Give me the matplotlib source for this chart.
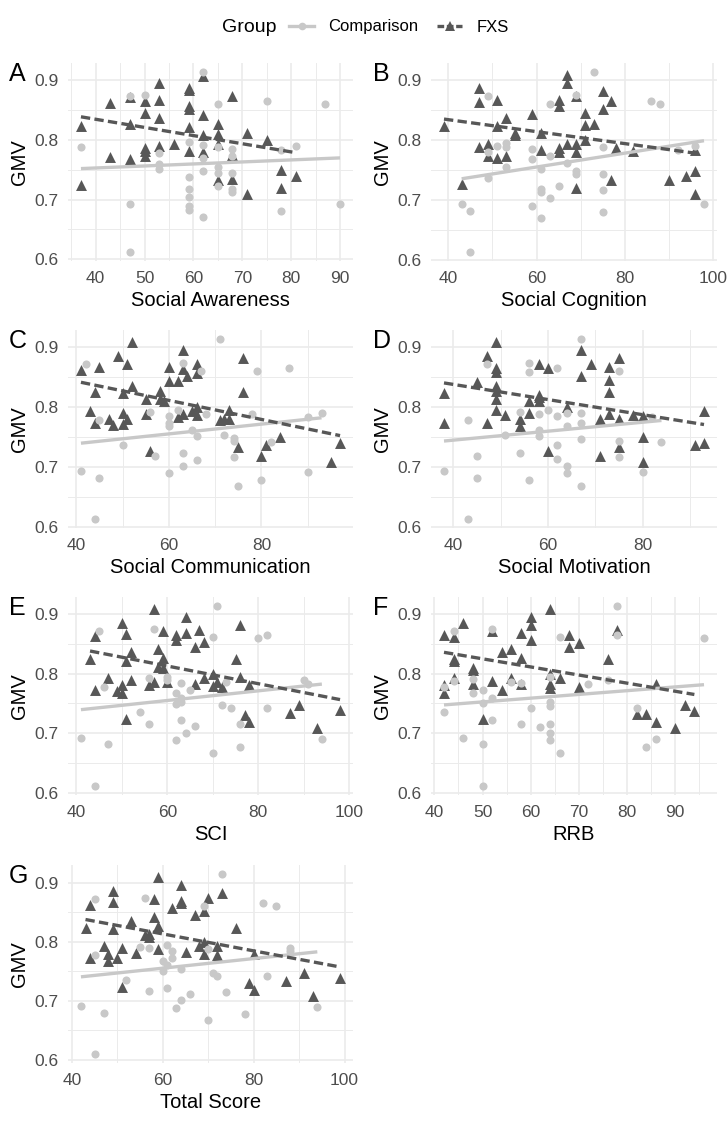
import numpy as np
import matplotlib
matplotlib.use("Agg")
import matplotlib.pyplot as plt
from matplotlib.lines import Line2D

plt.rcParams['font.family'] = ['Liberation Sans', 'DejaVu Sans']

# ---------------- data ----------------
a_cmp_x = [37,47,47,47,50,53,53,53,59,59,59,59,59,59,62,62,62,62,62,65,65,65,65,65,68,68,68,68,68,75,78,78,81,87,90]
a_cmp_y = [0.789,0.873,0.693,0.612,0.875,0.778,0.760,0.751,0.796,0.737,0.718,0.704,0.690,0.682,0.914,0.792,0.769,0.748,0.670,0.861,0.788,0.755,0.744,0.723,0.785,0.773,0.744,0.717,0.713,0.866,0.783,0.680,0.790,0.860,0.693]
a_fxs_x = [37,37,43,43,47,47,47,50,50,50,50,50,53,53,53,53,56,59,59,59,59,59,59,62,62,62,62,65,65,65,65,68,68,68,71,71,75,78,78,81]
a_fxs_y = [0.824,0.725,0.862,0.772,0.826,0.768,0.872,0.865,0.845,0.787,0.782,0.773,0.896,0.867,0.837,0.790,0.794,0.887,0.883,0.857,0.852,0.821,0.781,0.907,0.842,0.808,0.780,0.826,0.810,0.794,0.732,0.873,0.775,0.734,0.811,0.710,0.800,0.749,0.720,0.740]

b_cmp_x = [43,45,45,49,49,49,51,53,53,53,59,59,59,61,61,61,61,63,63,63,65,67,69,69,69,73,75,75,75,75,86,88,92,96,98]
b_cmp_y = [0.693,0.682,0.613,0.874,0.781,0.737,0.790,0.795,0.789,0.755,0.785,0.769,0.690,0.751,0.719,0.713,0.670,0.861,0.773,0.704,0.723,0.761,0.748,0.743,0.875,0.914,0.788,0.743,0.716,0.680,0.866,0.860,0.783,0.791,0.693]
b_fxs_x = [39,43,47,47,47,49,49,51,51,51,53,53,55,55,59,61,61,65,65,65,65,67,67,67,69,69,69,69,71,71,71,73,75,75,77,77,78,82,90,94,96,96,96]
b_fxs_y = [0.824,0.727,0.888,0.863,0.789,0.794,0.774,0.867,0.824,0.770,0.837,0.773,0.812,0.809,0.844,0.812,0.783,0.868,0.857,0.787,0.780,0.909,0.896,0.794,0.874,0.794,0.780,0.720,0.845,0.826,0.800,0.827,0.882,0.852,0.866,0.733,0.787,0.782,0.733,0.740,0.749,0.710,0.783]

c_cmp_x = [41,42,44,45,45,50,56,57,60,60,60,60,62,63,63,63,65,66,66,67,68,71,72,74,74,74,75,78,79,80,82,86,90,90,93]
c_cmp_y = [0.693,0.873,0.613,0.682,0.779,0.737,0.792,0.718,0.785,0.773,0.769,0.690,0.796,0.874,0.723,0.702,0.761,0.751,0.712,0.860,0.788,0.914,0.754,0.748,0.743,0.716,0.669,0.788,0.860,0.679,0.742,0.866,0.784,0.692,0.790]
c_fxs_x = [41,43,44,44,45,47,48,49,50,50,50,51,51,52,52,55,55,56,58,58,59,60,60,62,62,63,63,63,64,65,66,66,66,66,71,72,73,73,75,76,76,80,81,84,95,97]
c_fxs_y = [0.862,0.794,0.825,0.773,0.867,0.781,0.770,0.886,0.824,0.791,0.772,0.872,0.781,0.909,0.836,0.813,0.788,0.726,0.827,0.813,0.810,0.868,0.844,0.844,0.784,0.895,0.864,0.788,0.852,0.794,0.873,0.857,0.801,0.787,0.779,0.780,0.795,0.780,0.733,0.882,0.826,0.719,0.736,0.750,0.709,0.740]

d_cmp_x = [38,43,43,45,45,47,51,54,54,56,56,56,58,58,58,60,62,62,62,62,64,64,64,64,67,67,67,67,67,75,75,75,80,82,84]
d_cmp_y = [0.693,0.779,0.613,0.718,0.682,0.873,0.754,0.792,0.723,0.874,0.859,0.679,0.788,0.761,0.751,0.796,0.866,0.785,0.737,0.713,0.790,0.769,0.702,0.690,0.914,0.790,0.773,0.747,0.669,0.861,0.743,0.716,0.692,0.784,0.742]
d_fxs_x = [38,38,45,47,47,49,49,49,49,49,49,49,51,54,54,56,56,58,58,58,58,60,60,64,67,67,69,71,71,73,73,73,73,75,75,75,78,80,80,80,91,93,93]
d_fxs_y = [0.824,0.773,0.842,0.886,0.773,0.909,0.866,0.858,0.836,0.827,0.813,0.795,0.787,0.780,0.769,0.810,0.790,0.821,0.817,0.810,0.873,0.866,0.726,0.801,0.895,0.852,0.873,0.780,0.719,0.868,0.845,0.825,0.788,0.882,0.780,0.733,0.787,0.785,0.750,0.709,0.736,0.794,0.740]

e_cmp_x = [41,44,45,46,47,54,56,56,57,60,60,62,62,62,63,63,63,63,64,65,66,70,70,71,72,73,74,76,76,80,82,82,90,91,94]
e_cmp_y = [0.691,0.611,0.872,0.778,0.681,0.735,0.716,0.792,0.875,0.795,0.790,0.768,0.749,0.689,0.784,0.759,0.753,0.722,0.701,0.772,0.712,0.861,0.667,0.914,0.747,0.786,0.743,0.715,0.677,0.860,0.865,0.742,0.790,0.783,0.690]
e_fxs_x = [43,44,44,47,49,50,50,50,51,51,51,52,52,56,57,57,58,58,59,59,59,60,62,62,64,64,66,66,67,68,68,70,70,71,72,75,76,76,77,78,78,87,89,93,98]
e_fxs_y = [0.824,0.863,0.772,0.793,0.771,0.886,0.781,0.768,0.867,0.822,0.724,0.836,0.790,0.781,0.909,0.786,0.842,0.811,0.872,0.826,0.809,0.786,0.865,0.857,0.896,0.869,0.845,0.783,0.873,0.853,0.793,0.799,0.779,0.786,0.778,0.825,0.882,0.794,0.730,0.781,0.718,0.734,0.748,0.708,0.739]

f_cmp_x = [42,42,44,44,46,48,48,50,50,50,50,52,52,52,56,58,58,60,62,64,64,64,64,64,64,66,66,72,76,78,78,82,84,86,96]
f_cmp_y = [0.778,0.735,0.872,0.788,0.691,0.791,0.768,0.772,0.750,0.681,0.611,0.875,0.759,0.722,0.786,0.785,0.716,0.743,0.711,0.794,0.753,0.746,0.715,0.701,0.689,0.861,0.667,0.782,0.790,0.914,0.865,0.742,0.677,0.690,0.860]
f_fxs_x = [42,42,42,44,44,44,44,46,48,48,48,50,52,52,54,54,56,56,58,58,58,60,60,60,64,64,64,64,66,68,68,70,70,76,78,82,84,86,86,90,92,94]
f_fxs_y = [0.865,0.781,0.768,0.861,0.824,0.821,0.793,0.885,0.809,0.806,0.783,0.724,0.872,0.787,0.772,0.836,0.842,0.793,0.868,0.826,0.783,0.896,0.882,0.856,0.909,0.783,0.776,0.800,0.793,0.865,0.845,0.851,0.778,0.825,0.874,0.733,0.732,0.782,0.718,0.708,0.748,0.738]

g_cmp_x = [42,45,45,45,47,52,55,56,57,57,60,60,61,61,61,62,62,63,64,64,66,69,70,70,71,72,73,74,78,82,83,85,88,88,94]
g_cmp_y = [0.691,0.873,0.778,0.610,0.680,0.735,0.791,0.874,0.716,0.789,0.768,0.750,0.795,0.760,0.721,0.785,0.772,0.688,0.754,0.702,0.712,0.860,0.667,0.788,0.747,0.743,0.915,0.715,0.677,0.866,0.742,0.860,0.790,0.784,0.690]
g_fxs_x = [43,44,44,47,48,48,49,49,49,50,51,51,53,54,56,57,57,58,58,59,59,59,62,64,64,64,65,67,68,69,69,69,70,72,72,73,76,79,80,80,87,91,93,99]
g_fxs_y = [0.824,0.863,0.772,0.793,0.780,0.768,0.887,0.867,0.822,0.772,0.790,0.724,0.836,0.781,0.812,0.813,0.808,0.873,0.842,0.910,0.827,0.788,0.857,0.897,0.869,0.866,0.783,0.845,0.793,0.852,0.800,0.779,0.874,0.793,0.778,0.883,0.824,0.730,0.718,0.779,0.733,0.747,0.708,0.738]

panel_letters = ["A", "B", "C", "D", "E", "F", "G"]
x_titles = ["Social Awareness", "Social Cognition", "Social Communication",
            "Social Motivation", "SCI", "RRB", "Total Score"]
x_breaks = [[40, 50, 60, 70, 80, 90], [40, 60, 80, 100], [40, 60, 80],
            [40, 60, 80], [40, 60, 80, 100], [40, 50, 60, 70, 80, 90],
            [40, 60, 80, 100]]
y_breaks = [0.6, 0.7, 0.8, 0.9]
group_names = ["Comparison", "FXS"]

cmp_x = [a_cmp_x, b_cmp_x, c_cmp_x, d_cmp_x, e_cmp_x, f_cmp_x, g_cmp_x]
cmp_y = [a_cmp_y, b_cmp_y, c_cmp_y, d_cmp_y, e_cmp_y, f_cmp_y, g_cmp_y]
fxs_x = [a_fxs_x, b_fxs_x, c_fxs_x, d_fxs_x, e_fxs_x, f_fxs_x, g_fxs_x]
fxs_y = [a_fxs_y, b_fxs_y, c_fxs_y, d_fxs_y, e_fxs_y, f_fxs_y, g_fxs_y]

# ---------------- style ----------------
CMP_COL = "#C8C8C8"
FXS_COL = "#575757"
GRID_COL = "#EBEBEB"
TICK_COL = "#4D4D4D"

W, H = 728, 1125
fig = plt.figure(figsize=(W / 100, H / 100), dpi=100)

col_left = [68, 431]
col_w = [285, 286]
row_top = [63, 330, 597, 865]
ax_h = 198


def minor_of(br, lo, hi):
    d = br[1] - br[0]
    ext = [br[0] - d] + list(br) + [br[-1] + d]
    mids = [(ext[i] + ext[i + 1]) / 2 for i in range(len(ext) - 1)]
    return [m for m in mids if lo <= m <= hi]


def expand(vals):
    lo, hi = min(vals), max(vals)
    r = hi - lo
    return lo - 0.05 * r, hi + 0.05 * r


for i in range(7):
    r, c = divmod(i, 2)
    left = col_left[c] / W
    bottom = 1 - (row_top[r] + ax_h) / H
    ax = fig.add_axes([left, bottom, col_w[c] / W, ax_h / H])

    cx, cy = np.array(cmp_x[i], float), np.array(cmp_y[i], float)
    fx, fy = np.array(fxs_x[i], float), np.array(fxs_y[i], float)

    ax.scatter(fx, fy, marker="^", s=62, color=FXS_COL, linewidths=0, zorder=3)
    ax.scatter(cx, cy, marker="o", s=34, color=CMP_COL, linewidths=0, zorder=3)

    # linear fits (geom_smooth(method = "lm", se = FALSE))
    pc = np.polyfit(cx, cy, 1)
    xs = np.array([cx.min(), cx.max()])
    ax.plot(xs, np.polyval(pc, xs), color=CMP_COL, lw=2.4, zorder=4,
            solid_capstyle="butt")
    pf = np.polyfit(fx, fy, 1)
    xs = np.array([fx.min(), fx.max()])
    ax.plot(xs, np.polyval(pf, xs), color=FXS_COL, lw=2.4, zorder=4,
            dashes=(2.8, 1.3), dash_capstyle="butt")

    xlo, xhi = expand(list(cx) + list(fx))
    ylo, yhi = expand(list(cy) + list(fy))
    ax.set_xlim(xlo, xhi)
    ax.set_ylim(ylo, yhi)

    ax.set_xticks(x_breaks[i])
    ax.set_xticks(minor_of(x_breaks[i], xlo, xhi), minor=True)
    ax.set_yticks(y_breaks)
    ax.set_yticklabels([f"{v:.1f}" for v in y_breaks])
    ax.set_yticks(minor_of(y_breaks, ylo, yhi), minor=True)

    ax.grid(True, which="major", color=GRID_COL, lw=1.2, zorder=0)
    ax.grid(True, which="minor", color=GRID_COL, lw=0.7, zorder=0)
    ax.set_axisbelow(True)
    for s in ax.spines.values():
        s.set_visible(False)
    ax.tick_params(which="both", length=0, labelsize=12.5, labelcolor=TICK_COL)
    ax.tick_params(axis="x", pad=7.5)
    ax.tick_params(axis="y", pad=6.8)
    ax.set_xlabel(x_titles[i], fontsize=14.5, labelpad=3, color="black")
    ax.set_ylabel("GMV", fontsize=14.5, labelpad=4, color="black")

    fig.text((9 + c * 364) / W, 1 - (row_top[r] - 1) / H, panel_letters[i],
             fontsize=18, va="top", ha="left", color="black")

# ---------------- legend ----------------
fig.text(222 / W, 1 - 27 / H, "Group", fontsize=14, va="center", ha="left")
handles = [
    Line2D([], [], color=CMP_COL, lw=2.4, marker="o", markersize=5.5,
           markeredgewidth=0),
    Line2D([], [], color=FXS_COL, lw=2.4, marker="^", markersize=7,
           markeredgewidth=0, dashes=(2.0, 0.8)),
]
fig.legend(handles, group_names, loc="center left",
           bbox_to_anchor=(289 / W, 1 - 27 / H), ncol=2, frameon=False,
           fontsize=12, handlelength=1.5, handletextpad=0.85,
           columnspacing=1.15, borderpad=0, borderaxespad=0)

fig.savefig("out.png", dpi=100)
